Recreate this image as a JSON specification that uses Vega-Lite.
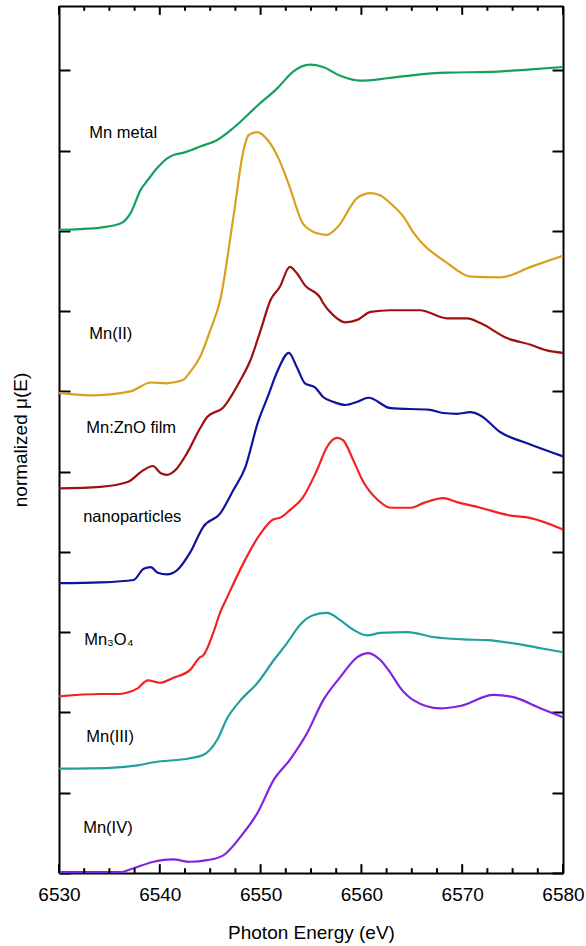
{
  "$schema": "https://vega.github.io/schema/vega-lite/v6.json",
  "autosize": "none",
  "width": 504,
  "height": 867,
  "padding": {"left": 59, "top": 6, "right": 23, "bottom": 73},
  "background": "white",
  "config": {
    "view": {"stroke": null},
    "font": "Liberation Sans",
    "axis": {
      "grid": false,
      "domainColor": "black",
      "domainWidth": 2,
      "tickColor": "black",
      "tickWidth": 2,
      "labelColor": "black",
      "titleColor": "black",
      "labelFont": "Liberation Sans",
      "titleFont": "Liberation Sans",
      "titleFontWeight": "normal",
      "labelOverlap": false,
      "labelFlush": false
    },
    "line": {"interpolate": "monotone"}
  },
  "datasets": {
    "spectra": [
      {"series": "Mn metal", "energy": 6530, "mu": 8.01},
      {"series": "Mn metal", "energy": 6532, "mu": 8.02},
      {"series": "Mn metal", "energy": 6534.1, "mu": 8.04},
      {"series": "Mn metal", "energy": 6536.1, "mu": 8.09},
      {"series": "Mn metal", "energy": 6537.1, "mu": 8.22},
      {"series": "Mn metal", "energy": 6538.1, "mu": 8.51},
      {"series": "Mn metal", "energy": 6538.8, "mu": 8.63},
      {"series": "Mn metal", "energy": 6539.8, "mu": 8.79},
      {"series": "Mn metal", "energy": 6540.7, "mu": 8.9},
      {"series": "Mn metal", "energy": 6541.5, "mu": 8.95},
      {"series": "Mn metal", "energy": 6542.3, "mu": 8.97},
      {"series": "Mn metal", "energy": 6543, "mu": 9.0},
      {"series": "Mn metal", "energy": 6544, "mu": 9.05},
      {"series": "Mn metal", "energy": 6545.7, "mu": 9.13},
      {"series": "Mn metal", "energy": 6547.3, "mu": 9.28},
      {"series": "Mn metal", "energy": 6549.7, "mu": 9.56},
      {"series": "Mn metal", "energy": 6551.7, "mu": 9.78},
      {"series": "Mn metal", "energy": 6553.2, "mu": 9.98},
      {"series": "Mn metal", "energy": 6554.9, "mu": 10.07},
      {"series": "Mn metal", "energy": 6556.2, "mu": 10.04},
      {"series": "Mn metal", "energy": 6557.9, "mu": 9.93},
      {"series": "Mn metal", "energy": 6559.9, "mu": 9.87},
      {"series": "Mn metal", "energy": 6562.6, "mu": 9.9},
      {"series": "Mn metal", "energy": 6565.2, "mu": 9.94},
      {"series": "Mn metal", "energy": 6568.5, "mu": 9.97},
      {"series": "Mn metal", "energy": 6572.8, "mu": 9.98},
      {"series": "Mn metal", "energy": 6576.8, "mu": 10.01},
      {"series": "Mn metal", "energy": 6580, "mu": 10.04},

      {"series": "Mn(II)", "energy": 6530, "mu": 5.98},
      {"series": "Mn(II)", "energy": 6533.1, "mu": 5.95},
      {"series": "Mn(II)", "energy": 6537.1, "mu": 6.0},
      {"series": "Mn(II)", "energy": 6539.1, "mu": 6.11},
      {"series": "Mn(II)", "energy": 6540.7, "mu": 6.1},
      {"series": "Mn(II)", "energy": 6542.3, "mu": 6.14},
      {"series": "Mn(II)", "energy": 6543, "mu": 6.24},
      {"series": "Mn(II)", "energy": 6544, "mu": 6.43},
      {"series": "Mn(II)", "energy": 6545, "mu": 6.76},
      {"series": "Mn(II)", "energy": 6546, "mu": 7.14},
      {"series": "Mn(II)", "energy": 6547.3, "mu": 8.17},
      {"series": "Mn(II)", "energy": 6548.3, "mu": 9.0},
      {"series": "Mn(II)", "energy": 6548.8, "mu": 9.19},
      {"series": "Mn(II)", "energy": 6549.7, "mu": 9.23},
      {"series": "Mn(II)", "energy": 6550.7, "mu": 9.13},
      {"series": "Mn(II)", "energy": 6552, "mu": 8.84},
      {"series": "Mn(II)", "energy": 6552.9, "mu": 8.54},
      {"series": "Mn(II)", "energy": 6554.2, "mu": 8.09},
      {"series": "Mn(II)", "energy": 6555.6, "mu": 7.97},
      {"series": "Mn(II)", "energy": 6556.6, "mu": 7.95},
      {"series": "Mn(II)", "energy": 6557.6, "mu": 8.04},
      {"series": "Mn(II)", "energy": 6559.6, "mu": 8.41},
      {"series": "Mn(II)", "energy": 6560.9, "mu": 8.47},
      {"series": "Mn(II)", "energy": 6561.9, "mu": 8.44},
      {"series": "Mn(II)", "energy": 6562.9, "mu": 8.34},
      {"series": "Mn(II)", "energy": 6564.2, "mu": 8.17},
      {"series": "Mn(II)", "energy": 6565.2, "mu": 7.97},
      {"series": "Mn(II)", "energy": 6568.5, "mu": 7.6},
      {"series": "Mn(II)", "energy": 6570.8, "mu": 7.43},
      {"series": "Mn(II)", "energy": 6573.8, "mu": 7.42},
      {"series": "Mn(II)", "energy": 6576.8, "mu": 7.55},
      {"series": "Mn(II)", "energy": 6580, "mu": 7.69},

      {"series": "Mn:ZnO film", "energy": 6530, "mu": 4.79},
      {"series": "Mn:ZnO film", "energy": 6534.1, "mu": 4.81},
      {"series": "Mn:ZnO film", "energy": 6536.8, "mu": 4.87},
      {"series": "Mn:ZnO film", "energy": 6538.4, "mu": 5.02},
      {"series": "Mn:ZnO film", "energy": 6539.3, "mu": 5.07},
      {"series": "Mn:ZnO film", "energy": 6540.1, "mu": 4.98},
      {"series": "Mn:ZnO film", "energy": 6540.7, "mu": 4.96},
      {"series": "Mn:ZnO film", "energy": 6541.7, "mu": 5.04},
      {"series": "Mn:ZnO film", "energy": 6542.7, "mu": 5.23},
      {"series": "Mn:ZnO film", "energy": 6544, "mu": 5.54},
      {"series": "Mn:ZnO film", "energy": 6544.7, "mu": 5.68},
      {"series": "Mn:ZnO film", "energy": 6546.3, "mu": 5.8},
      {"series": "Mn:ZnO film", "energy": 6548, "mu": 6.14},
      {"series": "Mn:ZnO film", "energy": 6549, "mu": 6.39},
      {"series": "Mn:ZnO film", "energy": 6550, "mu": 6.76},
      {"series": "Mn:ZnO film", "energy": 6551, "mu": 7.14},
      {"series": "Mn:ZnO film", "energy": 6551.9, "mu": 7.3},
      {"series": "Mn:ZnO film", "energy": 6552.9, "mu": 7.55},
      {"series": "Mn:ZnO film", "energy": 6553.6, "mu": 7.47},
      {"series": "Mn:ZnO film", "energy": 6554.4, "mu": 7.32},
      {"series": "Mn:ZnO film", "energy": 6555.9, "mu": 7.17},
      {"series": "Mn:ZnO film", "energy": 6556.2, "mu": 7.1},
      {"series": "Mn:ZnO film", "energy": 6557.2, "mu": 6.95},
      {"series": "Mn:ZnO film", "energy": 6558.4, "mu": 6.86},
      {"series": "Mn:ZnO film", "energy": 6559.6, "mu": 6.89},
      {"series": "Mn:ZnO film", "energy": 6560.9, "mu": 6.99},
      {"series": "Mn:ZnO film", "energy": 6562.9, "mu": 7.01},
      {"series": "Mn:ZnO film", "energy": 6565.8, "mu": 7.01},
      {"series": "Mn:ZnO film", "energy": 6568.5, "mu": 6.91},
      {"series": "Mn:ZnO film", "energy": 6570.5, "mu": 6.91},
      {"series": "Mn:ZnO film", "energy": 6571.8, "mu": 6.85},
      {"series": "Mn:ZnO film", "energy": 6574.5, "mu": 6.66},
      {"series": "Mn:ZnO film", "energy": 6576.8, "mu": 6.58},
      {"series": "Mn:ZnO film", "energy": 6578.4, "mu": 6.51},
      {"series": "Mn:ZnO film", "energy": 6580, "mu": 6.48},

      {"series": "nanoparticles", "energy": 6530, "mu": 3.61},
      {"series": "nanoparticles", "energy": 6534.1, "mu": 3.62},
      {"series": "nanoparticles", "energy": 6537.4, "mu": 3.65},
      {"series": "nanoparticles", "energy": 6538.4, "mu": 3.79},
      {"series": "nanoparticles", "energy": 6539.1, "mu": 3.81},
      {"series": "nanoparticles", "energy": 6539.8, "mu": 3.74},
      {"series": "nanoparticles", "energy": 6540.7, "mu": 3.72},
      {"series": "nanoparticles", "energy": 6541.7, "mu": 3.77},
      {"series": "nanoparticles", "energy": 6543, "mu": 3.99},
      {"series": "nanoparticles", "energy": 6544.3, "mu": 4.31},
      {"series": "nanoparticles", "energy": 6546, "mu": 4.48},
      {"series": "nanoparticles", "energy": 6547.3, "mu": 4.77},
      {"series": "nanoparticles", "energy": 6548.5, "mu": 5.06},
      {"series": "nanoparticles", "energy": 6549.7, "mu": 5.6},
      {"series": "nanoparticles", "energy": 6550.7, "mu": 5.93},
      {"series": "nanoparticles", "energy": 6551.7, "mu": 6.26},
      {"series": "nanoparticles", "energy": 6552.8, "mu": 6.48},
      {"series": "nanoparticles", "energy": 6553.6, "mu": 6.3},
      {"series": "nanoparticles", "energy": 6554.4, "mu": 6.1},
      {"series": "nanoparticles", "energy": 6555.4, "mu": 6.05},
      {"series": "nanoparticles", "energy": 6556.2, "mu": 5.93},
      {"series": "nanoparticles", "energy": 6557.2, "mu": 5.87},
      {"series": "nanoparticles", "energy": 6558.4, "mu": 5.83},
      {"series": "nanoparticles", "energy": 6559.6, "mu": 5.87},
      {"series": "nanoparticles", "energy": 6560.7, "mu": 5.92},
      {"series": "nanoparticles", "energy": 6562.9, "mu": 5.79},
      {"series": "nanoparticles", "energy": 6566.8, "mu": 5.77},
      {"series": "nanoparticles", "energy": 6568.1, "mu": 5.73},
      {"series": "nanoparticles", "energy": 6569.5, "mu": 5.72},
      {"series": "nanoparticles", "energy": 6570.8, "mu": 5.74},
      {"series": "nanoparticles", "energy": 6571.8, "mu": 5.7},
      {"series": "nanoparticles", "energy": 6573.8, "mu": 5.49},
      {"series": "nanoparticles", "energy": 6576.5, "mu": 5.35},
      {"series": "nanoparticles", "energy": 6580, "mu": 5.19},

      {"series": "Mn3O4", "energy": 6530, "mu": 2.2},
      {"series": "Mn3O4", "energy": 6534.1, "mu": 2.23},
      {"series": "Mn3O4", "energy": 6535.8, "mu": 2.23},
      {"series": "Mn3O4", "energy": 6537.8, "mu": 2.3},
      {"series": "Mn3O4", "energy": 6538.8, "mu": 2.4},
      {"series": "Mn3O4", "energy": 6540, "mu": 2.37},
      {"series": "Mn3O4", "energy": 6541.3, "mu": 2.43},
      {"series": "Mn3O4", "energy": 6543, "mu": 2.53},
      {"series": "Mn3O4", "energy": 6544, "mu": 2.69},
      {"series": "Mn3O4", "energy": 6544.3, "mu": 2.71},
      {"series": "Mn3O4", "energy": 6545.3, "mu": 2.99},
      {"series": "Mn3O4", "energy": 6546, "mu": 3.25},
      {"series": "Mn3O4", "energy": 6546.7, "mu": 3.44},
      {"series": "Mn3O4", "energy": 6548.3, "mu": 3.86},
      {"series": "Mn3O4", "energy": 6550, "mu": 4.23},
      {"series": "Mn3O4", "energy": 6551.2, "mu": 4.4},
      {"series": "Mn3O4", "energy": 6552, "mu": 4.43},
      {"series": "Mn3O4", "energy": 6552.9, "mu": 4.52},
      {"series": "Mn3O4", "energy": 6554.2, "mu": 4.68},
      {"series": "Mn3O4", "energy": 6555.6, "mu": 5.02},
      {"series": "Mn3O4", "energy": 6556.6, "mu": 5.31},
      {"series": "Mn3O4", "energy": 6557.6, "mu": 5.42},
      {"series": "Mn3O4", "energy": 6558.2, "mu": 5.39},
      {"series": "Mn3O4", "energy": 6559.2, "mu": 5.14},
      {"series": "Mn3O4", "energy": 6560.2, "mu": 4.87},
      {"series": "Mn3O4", "energy": 6561.6, "mu": 4.65},
      {"series": "Mn3O4", "energy": 6562.9, "mu": 4.55},
      {"series": "Mn3O4", "energy": 6564.9, "mu": 4.55},
      {"series": "Mn3O4", "energy": 6566.2, "mu": 4.61},
      {"series": "Mn3O4", "energy": 6568.1, "mu": 4.67},
      {"series": "Mn3O4", "energy": 6569.5, "mu": 4.62},
      {"series": "Mn3O4", "energy": 6571.8, "mu": 4.55},
      {"series": "Mn3O4", "energy": 6574.5, "mu": 4.46},
      {"series": "Mn3O4", "energy": 6576.8, "mu": 4.42},
      {"series": "Mn3O4", "energy": 6580, "mu": 4.28},

      {"series": "Mn(III)", "energy": 6530, "mu": 1.3},
      {"series": "Mn(III)", "energy": 6535.1, "mu": 1.31},
      {"series": "Mn(III)", "energy": 6537.8, "mu": 1.34},
      {"series": "Mn(III)", "energy": 6539.4, "mu": 1.38},
      {"series": "Mn(III)", "energy": 6543, "mu": 1.43},
      {"series": "Mn(III)", "energy": 6544.3, "mu": 1.47},
      {"series": "Mn(III)", "energy": 6545.7, "mu": 1.66},
      {"series": "Mn(III)", "energy": 6546.7, "mu": 1.93},
      {"series": "Mn(III)", "energy": 6548, "mu": 2.15},
      {"series": "Mn(III)", "energy": 6549.7, "mu": 2.37},
      {"series": "Mn(III)", "energy": 6551.3, "mu": 2.65},
      {"series": "Mn(III)", "energy": 6552.6, "mu": 2.86},
      {"series": "Mn(III)", "energy": 6553.9, "mu": 3.09},
      {"series": "Mn(III)", "energy": 6555.2, "mu": 3.21},
      {"series": "Mn(III)", "energy": 6556.6, "mu": 3.24},
      {"series": "Mn(III)", "energy": 6557.9, "mu": 3.15},
      {"series": "Mn(III)", "energy": 6559.2, "mu": 3.03},
      {"series": "Mn(III)", "energy": 6560.6, "mu": 2.96},
      {"series": "Mn(III)", "energy": 6561.9, "mu": 2.99},
      {"series": "Mn(III)", "energy": 6564.6, "mu": 3.0},
      {"series": "Mn(III)", "energy": 6567.1, "mu": 2.94},
      {"series": "Mn(III)", "energy": 6570.1, "mu": 2.91},
      {"series": "Mn(III)", "energy": 6572.5, "mu": 2.9},
      {"series": "Mn(III)", "energy": 6575.1, "mu": 2.86},
      {"series": "Mn(III)", "energy": 6577.8, "mu": 2.8},
      {"series": "Mn(III)", "energy": 6580, "mu": 2.75},

      {"series": "Mn(IV)", "energy": 6530, "mu": 0.01},
      {"series": "Mn(IV)", "energy": 6536.1, "mu": 0.01},
      {"series": "Mn(IV)", "energy": 6537.4, "mu": 0.06},
      {"series": "Mn(IV)", "energy": 6539.4, "mu": 0.14},
      {"series": "Mn(IV)", "energy": 6541.3, "mu": 0.17},
      {"series": "Mn(IV)", "energy": 6543, "mu": 0.14},
      {"series": "Mn(IV)", "energy": 6544.7, "mu": 0.16},
      {"series": "Mn(IV)", "energy": 6546.3, "mu": 0.22},
      {"series": "Mn(IV)", "energy": 6548, "mu": 0.45},
      {"series": "Mn(IV)", "energy": 6549.7, "mu": 0.75},
      {"series": "Mn(IV)", "energy": 6551.3, "mu": 1.16},
      {"series": "Mn(IV)", "energy": 6552.9, "mu": 1.41},
      {"series": "Mn(IV)", "energy": 6554.6, "mu": 1.74},
      {"series": "Mn(IV)", "energy": 6556.2, "mu": 2.15},
      {"series": "Mn(IV)", "energy": 6557.9, "mu": 2.44},
      {"series": "Mn(IV)", "energy": 6559.6, "mu": 2.69},
      {"series": "Mn(IV)", "energy": 6560.7, "mu": 2.74},
      {"series": "Mn(IV)", "energy": 6561.9, "mu": 2.65},
      {"series": "Mn(IV)", "energy": 6562.9, "mu": 2.49},
      {"series": "Mn(IV)", "energy": 6563.9, "mu": 2.3},
      {"series": "Mn(IV)", "energy": 6565.2, "mu": 2.15},
      {"series": "Mn(IV)", "energy": 6567.8, "mu": 2.05},
      {"series": "Mn(IV)", "energy": 6569.8, "mu": 2.08},
      {"series": "Mn(IV)", "energy": 6573.1, "mu": 2.22},
      {"series": "Mn(IV)", "energy": 6575.1, "mu": 2.19},
      {"series": "Mn(IV)", "energy": 6577.8, "mu": 2.05},
      {"series": "Mn(IV)", "energy": 6580, "mu": 1.94}
    ],
    "labels": [
      {"label": "Mn metal", "energy": 6533.0, "mu": 9.22},
      {"label": "Mn(II)", "energy": 6533.0, "mu": 6.72},
      {"label": "Mn:ZnO film", "energy": 6532.7, "mu": 5.54},
      {"label": "nanoparticles", "energy": 6532.4, "mu": 4.43},
      {"label": "Mn₃O₄", "energy": 6532.5, "mu": 2.9},
      {"label": "Mn(III)", "energy": 6532.7, "mu": 1.69},
      {"label": "Mn(IV)", "energy": 6532.4, "mu": 0.56}
    ],
    "xticks": [
      {"energy": 6530, "kind": "major"},
      {"energy": 6532.5, "kind": "minor"},
      {"energy": 6535, "kind": "minor"},
      {"energy": 6537.5, "kind": "minor"},
      {"energy": 6540, "kind": "major"},
      {"energy": 6542.5, "kind": "minor"},
      {"energy": 6545, "kind": "minor"},
      {"energy": 6547.5, "kind": "minor"},
      {"energy": 6550, "kind": "major"},
      {"energy": 6552.5, "kind": "minor"},
      {"energy": 6555, "kind": "minor"},
      {"energy": 6557.5, "kind": "minor"},
      {"energy": 6560, "kind": "major"},
      {"energy": 6562.5, "kind": "minor"},
      {"energy": 6565, "kind": "minor"},
      {"energy": 6567.5, "kind": "minor"},
      {"energy": 6570, "kind": "major"},
      {"energy": 6572.5, "kind": "minor"},
      {"energy": 6575, "kind": "minor"},
      {"energy": 6577.5, "kind": "minor"},
      {"energy": 6580, "kind": "major"}
    ]
  },
  "layer": [
    {
      "data": {"name": "spectra"},
      "mark": {"type": "line"},
      "encoding": {
        "x": {
          "field": "energy",
          "type": "quantitative",
          "scale": {"domain": [6530, 6580], "nice": false, "zero": false},
          "axis": {
            "orient": "bottom",
            "title": "Photon Energy (eV)",
            "titleFontSize": 19,
            "titlePadding": 19,
            "values": [6530, 6540, 6550, 6560, 6570, 6580],
            "format": "d",
            "labelFontSize": 19,
            "labelPadding": 12,
            "ticks": false
          }
        },
        "y": {
          "field": "mu",
          "type": "quantitative",
          "scale": {"domain": [0, 10.8], "nice": false, "zero": false},
          "axis": {
            "orient": "left",
            "title": "normalized μ(E)",
            "titleFontSize": 19,
            "titlePadding": 28,
            "values": [0, 1, 2, 3, 4, 5, 6, 7, 8, 9, 10],
            "labels": false,
            "tickSize": -11
          }
        },
        "color": {
          "field": "series",
          "type": "nominal",
          "scale": {
            "domain": ["Mn metal", "Mn(II)", "Mn:ZnO film", "nanoparticles", "Mn3O4", "Mn(III)", "Mn(IV)"],
            "range": ["#17a05d", "#d9a020", "#9e1010", "#10139b", "#f52020", "#20a0a0", "#8024e0"]
          },
          "legend": null
        },
        "strokeWidth": {
          "field": "series",
          "type": "nominal",
          "scale": {
            "domain": ["Mn metal", "Mn(II)", "Mn:ZnO film", "nanoparticles", "Mn3O4", "Mn(III)", "Mn(IV)"],
            "range": [2.2, 2.2, 2.7, 3, 2, 2.2, 2.2]
          },
          "legend": null
        }
      }
    },
    {
      "data": {"name": "labels"},
      "mark": {"type": "text", "align": "left", "baseline": "middle", "fontSize": 16.5, "font": "Liberation Sans", "color": "black"},
      "encoding": {
        "x": {
          "field": "energy",
          "type": "quantitative",
          "axis": {"orient": "top", "title": null, "labels": false, "ticks": false}
        },
        "y": {
          "field": "mu",
          "type": "quantitative",
          "axis": {
            "orient": "right",
            "title": null,
            "labels": false,
            "values": [0, 1, 2, 3, 4, 5, 6, 7, 8, 9, 10],
            "tickSize": -11
          }
        },
        "text": {"field": "label", "type": "nominal"}
      }
    },
    {
      "data": {"name": "xticks"},
      "transform": [{"filter": "datum.kind === 'major'"}],
      "mark": {"type": "rule", "color": "black", "strokeWidth": 2},
      "encoding": {
        "x": {"field": "energy", "type": "quantitative", "axis": null},
        "y": {"datum": 0, "axis": null},
        "y2": {"datum": 0.11}
      }
    },
    {
      "data": {"name": "xticks"},
      "transform": [{"filter": "datum.kind === 'minor'"}],
      "mark": {"type": "rule", "color": "black", "strokeWidth": 2},
      "encoding": {
        "x": {"field": "energy", "type": "quantitative", "axis": null},
        "y": {"datum": 0, "axis": null},
        "y2": {"datum": 0.06}
      }
    },
    {
      "data": {"name": "xticks"},
      "transform": [{"filter": "datum.kind === 'major'"}],
      "mark": {"type": "rule", "color": "black", "strokeWidth": 2},
      "encoding": {
        "x": {"field": "energy", "type": "quantitative", "axis": null},
        "y": {"datum": 10.8, "axis": null},
        "y2": {"datum": 10.69}
      }
    },
    {
      "data": {"name": "xticks"},
      "transform": [{"filter": "datum.kind === 'minor'"}],
      "mark": {"type": "rule", "color": "black", "strokeWidth": 2},
      "encoding": {
        "x": {"field": "energy", "type": "quantitative", "axis": null},
        "y": {"datum": 10.8, "axis": null},
        "y2": {"datum": 10.74}
      }
    }
  ],
  "resolve": {"axis": {"x": "independent", "y": "independent"}}
}
